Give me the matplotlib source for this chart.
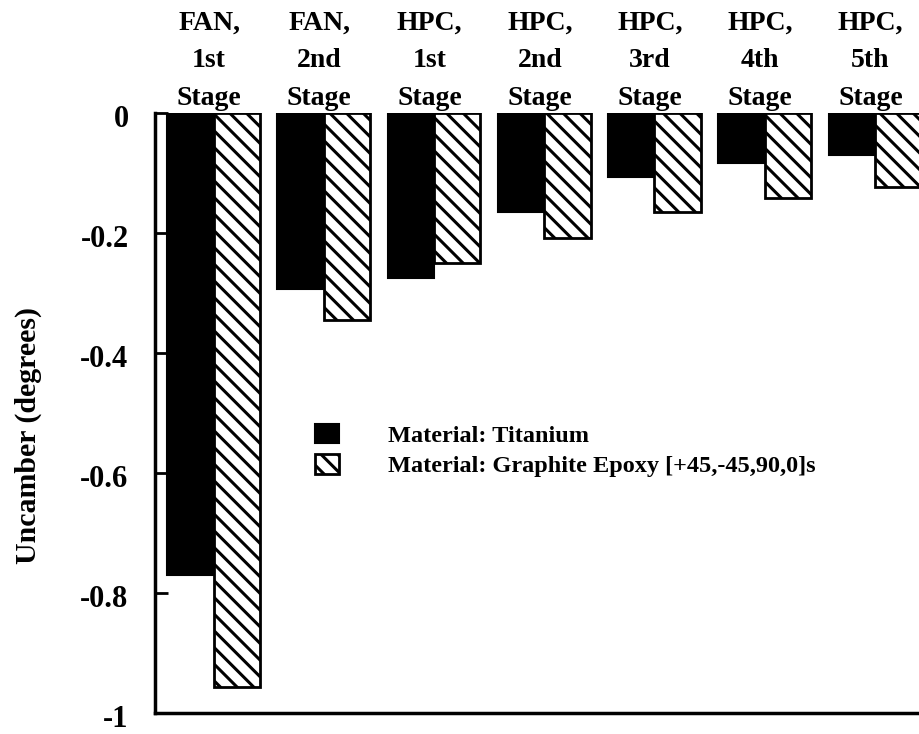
import matplotlib
matplotlib.use("Agg")
import matplotlib.pyplot as plt
import matplotlib.transforms as mtransforms
import numpy as np

# stage labels along the top
stages = ["FAN,\n1st\nStage", "FAN,\n2nd\nStage", "HPC,\n1st\nStage", "HPC,\n2nd\nStage",
          "HPC,\n3rd\nStage", "HPC,\n4th\nStage", "HPC,\n5th\nStage"]

# uncamber in degrees
titanium = [-0.77, -0.293, -0.275, -0.165, -0.107, -0.083, -0.07]
graphite = [-0.957, -0.345, -0.25, -0.208, -0.165, -0.142, -0.123]

series_names = ["Material: Titanium", "Material: Graphite Epoxy [+45,-45,90,0]s"]
yticks = [0, -0.2, -0.4, -0.6, -0.8, -1]
ytick_labels = ["0", "-0.2", "-0.4", "-0.6", "-0.8", "-1"]

plt.rcParams['font.family'] = ['Liberation Serif', 'DejaVu Serif']
plt.rcParams['font.weight'] = 'bold'
plt.rcParams['hatch.linewidth'] = 2.2

fig = plt.figure(figsize=(9.19, 7.34), dpi=100)
ax = fig.add_axes([155 / 919, 1 - 713 / 734, 1 - 155 / 919, 600 / 734])

x = np.arange(len(stages))
w = 0.42
b1 = ax.bar(x - w / 2, titanium, w, color="black", edgecolor="black", linewidth=1.5,
            label=series_names[0])
b2 = ax.bar(x + w / 2, graphite, w, color="white", edgecolor="black", linewidth=2,
            hatch="\\\\", label=series_names[1])

ax.set_xlim(-0.531, 6.40)
ax.set_ylim(-1, 0)
ax.set_xticks([])
ax.set_yticks(yticks)
ax.set_yticklabels(ytick_labels, fontsize=22, fontweight="bold")
ax.tick_params(axis="y", direction="in", length=9.5, width=2, pad=19)
# the labels sit a little below their ticks in the original
for lab in ax.get_yticklabels():
    lab.set_transform(lab.get_transform() + mtransforms.ScaledTranslation(0, -0.03, fig.dpi_scale_trans))

for s in ["top", "right"]:
    ax.spines[s].set_visible(False)
ax.spines["left"].set_linewidth(2.5)
ax.spines["bottom"].set_linewidth(2.5)

for i, s in enumerate(stages):
    ax.text(x[i] - 0.04, 0.004, s, ha="center", va="bottom", fontsize=20,
            fontweight="bold", linespacing=1.65, transform=ax.transData)

fig.text(28 / 919, 1 - 436 / 734, "Uncamber (degrees)", rotation=90, ha="center",
         va="center", fontsize=21.5, fontweight="bold")

ax.legend(handles=[b1, b2], loc="upper left", bbox_to_anchor=(0.209, 0.482),
          frameon=False, prop={"size": 17.5, "weight": "bold"}, handlelength=1.0,
          handleheight=0.85, handletextpad=2.0, borderpad=0, borderaxespad=0,
          labelspacing=0.3)

fig.savefig("out.png", dpi=100)
